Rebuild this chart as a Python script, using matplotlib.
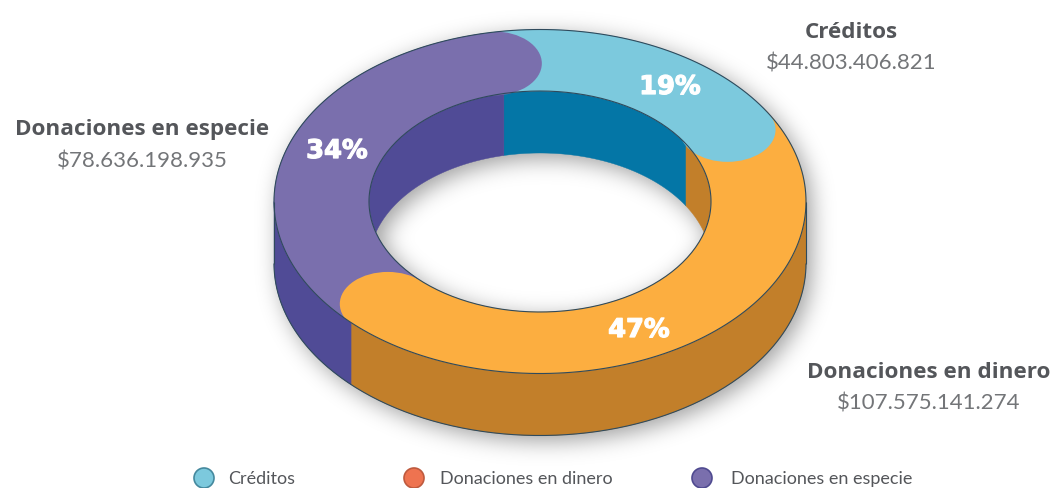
import numpy as np
import matplotlib
matplotlib.use("Agg")
import matplotlib.pyplot as plt
import matplotlib.patheffects as pe
from matplotlib.patches import Polygon, Ellipse

# ---- data ----
categories = ["Créditos", "Donaciones en dinero", "Donaciones en especie"]
values = [44803406821, 107575141274, 78636198935]
amount_labels = ["$44.803.406.821", "$107.575.141.274", "$78.636.198.935"]
top_colors = ["#7CC9DD", "#FCAE40", "#7A6FAD"]
wall_colors = ["#0476A6", "#C27F2A", "#504B96"]
legend_colors = ["#7CC9DD", "#EE7350", "#7A6FAD"]
legend_edges = ["#45899E", "#BE5A3E", "#4F4A90"]

# ---- layout (pixel coordinates) ----
W, H = 1054, 489
CX, CY = 540.0, 202.5
RX, RY = 266.0, 172.0
IX, IY = 171.0, 110.5
DEPTH = 62.0
START = -12.2
LINE = "#2F4A5C"
TEXT = "#54565A"
AMOUNT = "#737578"
HEAD_FONT = "Open Sans"
BODY_FONT = "Lato"

fig = plt.figure(figsize=(W / 100, H / 100), dpi=100)
ax = fig.add_axes([0, 0, 1, 1])
ax.set_xlim(0, W)
ax.set_ylim(H, 0)
ax.axis("off")


def arc(rx, ry, t1, t2, dy=0.0, n=240):
    t = np.radians(np.linspace(t1, t2, n))
    return np.column_stack([CX + rx * np.sin(t), CY - ry * np.cos(t) + dy])


# soft drop shadow of the solid body
yy, xx = np.mgrid[0:H, 0:W]
def inside(rx, ry, dy=0.0):
    return ((xx - CX) / rx) ** 2 + ((yy - CY - dy) / ry) ** 2 <= 1
body = inside(RX, RY) | inside(RX, RY, DEPTH) | ((np.abs(xx - CX) <= RX) & (yy >= CY) & (yy <= CY + DEPTH))
body = body & ~(inside(IX, IY) & inside(IX, IY, DEPTH))
sigma = 11.0
fy = np.fft.fftfreq(H)[:, None]
fx = np.fft.rfftfreq(W)[None, :]
gauss = np.exp(-2 * (np.pi * sigma) ** 2 * (fx ** 2 + fy ** 2))
shift = np.exp(-2j * np.pi * (fx * 5 + fy * 5))
blur = np.fft.irfft2(np.fft.rfft2(body.astype(float)) * gauss * shift, s=(H, W))
rgba = np.zeros((H, W, 4))
rgba[..., 3] = np.clip(blur, 0, 1) * 0.38
ax.imshow(rgba, extent=(0, W, H, 0), aspect="auto", zorder=1, interpolation="bilinear")
ax.set_xlim(0, W)
ax.set_ylim(H, 0)

# angles follow the values
total = sum(values)
edges = START + np.cumsum([0] + values) / total * 360.0
wall_edges = edges + np.array([0.0, 1.0, 0.0, 0.0])

inner_clip = Ellipse((CX, CY), 2 * IX, 2 * IY, transform=ax.transData, fill=False, ec="none")
ax.add_patch(inner_clip)
outer_clip = Ellipse((CX, CY), 2 * RX, 2 * RY, transform=ax.transData, fill=False, ec="none")
ax.add_patch(outer_clip)

# inner walls: only the far half can be seen
for i in range(3):
    for shift_turn in (-360, 0, 360):
        a = max(wall_edges[i] + shift_turn, -90.0)
        b = min(wall_edges[i + 1] + shift_turn, 90.0)
        if b <= a:
            continue
        pts = np.vstack([arc(IX, IY, a, b), arc(IX, IY, b, a, DEPTH)])
        p = Polygon(pts, closed=True, fc=wall_colors[i], ec=wall_colors[i], lw=0.3, zorder=2)
        ax.add_patch(p)
        p.set_clip_path(inner_clip)

# outer walls: only the near half can be seen
for i in range(3):
    for shift_turn in (-360, 0, 360):
        a = max(edges[i] + shift_turn, 90.0)
        b = min(edges[i + 1] + shift_turn, 270.0)
        if b <= a:
            continue
        pts = np.vstack([arc(RX, RY, a, b), arc(RX, RY, b, a, DEPTH)])
        ax.add_patch(Polygon(pts, closed=True, fc=wall_colors[i], ec=wall_colors[i], lw=0.3, zorder=3))

# top face sectors
for i in range(3):
    pts = np.vstack([arc(RX, RY, edges[i], edges[i + 1]), arc(IX, IY, edges[i + 1], edges[i])])
    ax.add_patch(Polygon(pts, closed=True, fc=top_colors[i], ec=top_colors[i], lw=0.3, zorder=4))

# rounded end of each sector lying over the next one
MX, MY = (RX + IX) / 2, (RY + IY) / 2
cap_nudge = [(3, 4), (3, 3), (0, 0)]
for i in range(3):
    e = arc(MX, MY, edges[i + 1], edges[i + 1], n=1)[0] + np.array(cap_nudge[i])
    c = Ellipse(e, 2 * 48, 2 * 32, fc=top_colors[i], ec="none", zorder=5)
    ax.add_patch(c)
    c.set_clip_path(outer_clip)

# outlines
t_all = (0, 360)
ax.plot(*arc(RX, RY, *t_all).T, color=LINE, lw=0.8, zorder=6, solid_capstyle="butt")
ax.plot(*arc(IX, IY, *t_all).T, color=LINE, lw=0.8, zorder=6, solid_capstyle="butt")
ax.plot(*arc(RX, RY, 90, 270, DEPTH).T, color=LINE, lw=0.8, zorder=6, solid_capstyle="butt")
ax.plot([CX - RX, CX - RX], [CY, CY + DEPTH], color=LINE, lw=0.8, zorder=6, solid_capstyle="butt")
ax.plot([CX + RX, CX + RX], [CY, CY + DEPTH], color=LINE, lw=0.8, zorder=6, solid_capstyle="butt")

# percentages
pct_pos = [(670, 88), (639, 331), (337, 152)]
for v, (x, y) in zip(values, pct_pos):
    ax.text(x, y, f"{round(v / total * 100)}%", color="white", fontsize=18.5,
            fontweight="bold", family="DejaVu Sans", ha="center", va="center", zorder=7,
            path_effects=[pe.withStroke(linewidth=0.9, foreground="white")])

# callouts
name_pos = [(851, 32), (929, 372), (142, 129)]
amount_pos = [(851, 64), (929, 404), (142, 162)]
for name, amt, np_, ap in zip(categories, amount_labels, name_pos, amount_pos):
    ax.text(*np_, name, color=TEXT, fontsize=16.2, fontweight="bold", family=HEAD_FONT,
            ha="center", va="center", zorder=7)
    ax.text(*ap, amt, color=AMOUNT, fontsize=16, fontweight="normal", family=BODY_FONT,
            ha="center", va="center", zorder=7)

# legend
legend_x = [204, 414, 702]
legend_tx = [228, 440, 731]
for name, col, edge, lx, tx in zip(categories, legend_colors, legend_edges, legend_x, legend_tx):
    ax.add_patch(Ellipse((lx, 479), 20, 20, fc=col, ec=edge, lw=1.2, zorder=7))
    ax.text(tx, 479, name, color=TEXT, fontsize=13, family=BODY_FONT, fontweight="normal",
            ha="left", va="center", zorder=7)

fig.savefig("out.png", dpi=100)
